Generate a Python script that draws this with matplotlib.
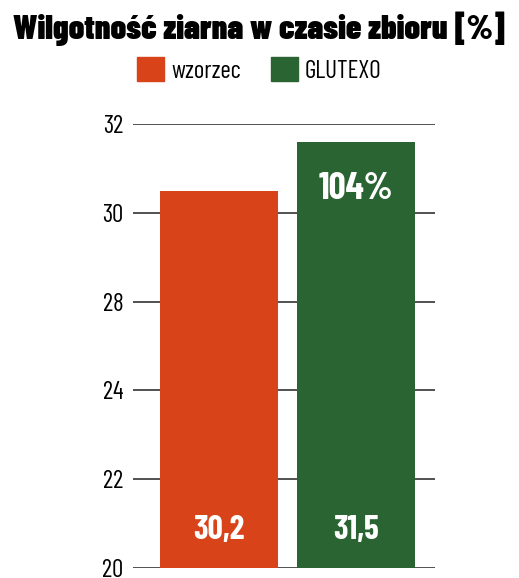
import matplotlib
matplotlib.use("Agg")
import matplotlib.pyplot as plt
from matplotlib.patches import Patch
import numpy as np

categories = ["wzorzec", "GLUTEXO"]
values = [30.2, 31.5]
value_labels = ["30,2", "31,5"]
pct_label = "104%"
colors = ["#D9431A", "#2A6432"]
tick_labels = ["20", "22", "24", "28", "30", "32"]
title = "Wilgotność ziarna w czasie zbioru [%]"

FONT = ["Barlow Condensed", "DejaVu Sans"]
plt.rcParams["font.family"] = FONT

fig = plt.figure(figsize=(5.19, 5.78), dpi=100)
ax = fig.add_axes([133/519, 1-568/578, (435-133)/519, (568-124)/578])

ymin, ymax = 20, 32
ticks = np.linspace(ymin, ymax, len(tick_labels))
ax.set_ylim(ymin, ymax)
ax.set_xlim(-0.628, 1.576)
for t in ticks:
    ax.axhline(t, color="#333333", lw=1.2, zorder=1)

x = np.arange(len(categories))
ax.bar(x, [v - ymin for v in values], bottom=ymin, width=0.861, color=colors, zorder=2)

for xi, lab in zip(x, value_labels):
    ax.text(xi, 21.03, lab, ha="center", va="center", color="white",
            fontsize=24, fontweight="bold", zorder=3)
ax.text(x[1], 30.25, pct_label, ha="center", va="center", color="white",
        fontsize=27, fontweight="bold", zorder=3)

ax.set_yticks(ticks)
ax.set_yticklabels(tick_labels, fontsize=18)
ax.tick_params(axis="y", length=0, pad=7)
ax.set_xticks([])
for s in ax.spines.values():
    s.set_visible(False)

fig.text(0.5, 1-29/578, title, ha="center", va="center", fontsize=24.5,
         fontweight=900, color="black")

handles = [Patch(color=c) for c in colors]
fig.legend(handles, categories, loc="center", bbox_to_anchor=(0.5, 1-70/578),
           ncol=2, frameon=False, fontsize=18, handlelength=1.08, handleheight=1.08,
           columnspacing=1.16, handletextpad=0.3)

fig.savefig("out.png", dpi=100)
